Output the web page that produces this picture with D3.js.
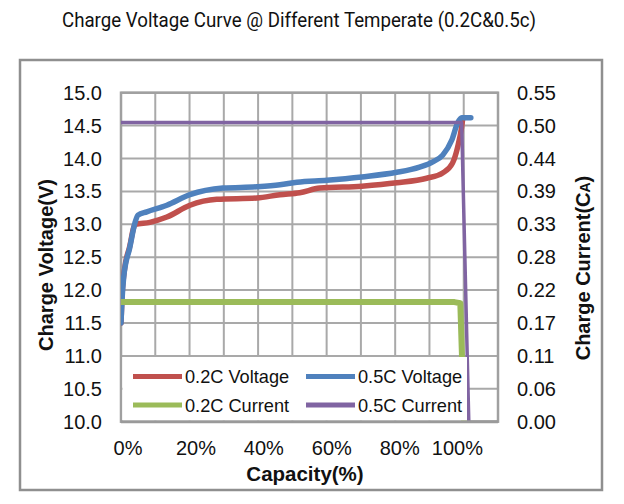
<!DOCTYPE html>
<html>
<head>
<meta charset="utf-8">
<script src="https://cdn.jsdelivr.net/npm/d3@7"></script>
<style>
  html, body { margin: 0; padding: 0; background: #fff; }
  svg { display: block; }
</style>
</head>
<body>
<svg id="chart" width="624" height="504"></svg>
<script>
// ---------- data ----------
const titleText = "Charge Voltage Curve @ Different Temperate (0.2C&0.5c)";
const seriesNames = ["0.2C Voltage", "0.5C Voltage", "0.2C Current", "0.5C Current"];
const seriesColors = ["#c0504d", "#4f81bd", "#9bbb59", "#8064a2"];

// 0.2C Voltage (left axis, V) vs capacity (%)
const red02Cap = [0, 0.3, 1, 2.5, 4.2, 8.5, 13.5, 20.3, 28.2, 40, 46.8, 52.6, 58.5, 70.9, 81.2, 90, 94.7, 97.6, 99.1, 100.3, 100.6];
const red02Volt = [11.5, 11.9, 12.3, 12.65, 13.0, 13.03, 13.11, 13.29, 13.38, 13.40, 13.45, 13.48, 13.55, 13.58, 13.63, 13.70, 13.78, 13.93, 14.17, 14.48, 14.60];

// 0.5C Voltage
const blue05Cap = [0, 0.3, 0.8, 2.6, 4.1, 5.0, 7.6, 13.5, 20.3, 30, 40, 46.8, 51.8, 60.6, 70.9, 81.2, 87.9, 91.8, 94.7, 97.4, 99.1, 100.3, 103];
const blue05Volt = [11.5, 11.85, 12.2, 12.65, 13.02, 13.14, 13.19, 13.29, 13.45, 13.55, 13.57, 13.60, 13.64, 13.67, 13.72, 13.79, 13.87, 13.95, 14.05, 14.28, 14.54, 14.62, 14.62];

// 0.2C Current (right axis, CA)
const green02Cap = [0, 98.2, 99.9, 101.0];
const green02Curr = [0.20, 0.20, 0.198, 0.0];

// 0.5C Current
const purple05Cap = [0, 100.3, 102.4];
const purple05Curr = [0.50, 0.50, 0.0];

// axis ticks
const leftTicks = [10.0, 10.5, 11.0, 11.5, 12.0, 12.5, 13.0, 13.5, 14.0, 14.5, 15.0];
const rightTickLabels = ["0.00", "0.06", "0.11", "0.17", "0.22", "0.28", "0.33", "0.39", "0.44", "0.50", "0.55"];
const xTicks = [0, 20, 40, 60, 80, 100];
const xTickLabels = ["0%", "20%", "40%", "60%", "80%", "100%"];

// ---------- layout ----------
const svg = d3.select("#chart");
const plotLeft = 121, plotRight = 498, plotTop = 92.7, plotBottom = 421.7;
const FONT = "'Liberation Sans', Arial, sans-serif";

const x = d3.scaleLinear().domain([0, 111]).range([plotLeft, plotRight]);
const yL = d3.scaleLinear().domain([10, 15]).range([plotBottom, plotTop]);
const yR = d3.scaleLinear().domain([0, 0.55]).range([plotBottom, plotTop]);
const gridX = d3.scaleLinear().domain([0, 11]).range([plotLeft, plotRight]);

// title
svg.append("text")
  .attr("x", 299).attr("y", 27)
  .attr("text-anchor", "middle")
  .attr("font-family", "Roboto, 'DejaVu Sans', sans-serif")
  .attr("font-weight", 400)
  .attr("font-size", 20)
  .attr("fill", "#111")
  .attr("textLength", 474)
  .attr("lengthAdjust", "spacingAndGlyphs")
  .text(titleText);

// outer frame
svg.append("rect")
  .attr("x", 20).attr("y", 60).attr("width", 582).attr("height", 430)
  .attr("fill", "none").attr("stroke", "#8f8f8f").attr("stroke-width", 2.5);

// gridlines
const grid = svg.append("g");
grid.selectAll("line.h").data(leftTicks).join("line")
  .attr("x1", plotLeft).attr("x2", plotRight)
  .attr("y1", d => yL(d)).attr("y2", d => yL(d))
  .attr("stroke", "#a9a9a9").attr("stroke-width", 2);
grid.selectAll("line.v").data(d3.range(12)).join("line")
  .attr("y1", plotTop).attr("y2", plotBottom)
  .attr("x1", d => gridX(d)).attr("x2", d => gridX(d))
  .attr("stroke", "#a9a9a9").attr("stroke-width", 2);

// plot border
svg.append("rect")
  .attr("x", plotLeft).attr("y", plotTop)
  .attr("width", plotRight - plotLeft).attr("height", plotBottom - plotTop)
  .attr("fill", "none").attr("stroke", "#a0a0a0").attr("stroke-width", 2.5);

// series
const lineL = d3.line().x(d => x(d[0])).y(d => yL(d[1])).curve(d3.curveMonotoneX);
const lineR = d3.line().x(d => x(d[0])).y(d => yR(d[1]));
const series = [
  { data: d3.zip(red02Cap, red02Volt), gen: lineL, color: seriesColors[0], w: 5.5 },
  { data: d3.zip(blue05Cap, blue05Volt), gen: lineL, color: seriesColors[1], w: 5.5 },
  { data: d3.zip(green02Cap, green02Curr), gen: lineR, color: seriesColors[2], w: 6 },
  { data: d3.zip(purple05Cap, purple05Curr), gen: lineR, color: seriesColors[3], w: 3.5 }
];
svg.append("clipPath").attr("id", "plotclip").append("rect")
  .attr("x", plotLeft).attr("y", plotTop - 10)
  .attr("width", plotRight - plotLeft).attr("height", plotBottom - plotTop + 10);
svg.append("g").attr("clip-path", "url(#plotclip)")
  .selectAll("path").data(series).join("path")
  .attr("d", s => s.gen(s.data))
  .attr("fill", "none")
  .attr("stroke", s => s.color)
  .attr("stroke-width", s => s.w)
  .attr("stroke-linejoin", "round")
  .attr("stroke-linecap", "round");

// bottom axis line (slightly heavier)
svg.append("line")
  .attr("x1", plotLeft).attr("x2", plotRight)
  .attr("y1", plotBottom).attr("y2", plotBottom)
  .attr("stroke", "#9a9a9a").attr("stroke-width", 3);

// legend
const lg = svg.append("g");
lg.append("rect")
  .attr("x", plotLeft + 1.5).attr("y", 357)
  .attr("width", 467 - plotLeft - 1.5).attr("height", plotBottom - 357 - 1.5)
  .attr("fill", "#fff");
const legendItems = seriesNames.map((n, i) => ({ name: n, color: seriesColors[i], col: i % 2, row: Math.floor(i / 2) }));
const legCols = [133, 306], legRows = [376.5, 405];
lg.selectAll("line").data(legendItems).join("line")
  .attr("x1", d => legCols[d.col]).attr("x2", d => legCols[d.col] + 49)
  .attr("y1", d => legRows[d.row]).attr("y2", d => legRows[d.row])
  .attr("stroke", d => d.color).attr("stroke-width", 5);
lg.selectAll("text").data(legendItems).join("text")
  .attr("x", d => legCols[d.col] + 52).attr("y", d => legRows[d.row] + 6.5)
  .attr("font-family", FONT).attr("font-size", 18.2).attr("fill", "#111")
  .text(d => d.name);

// left axis labels
svg.append("g").selectAll("text").data(leftTicks).join("text")
  .attr("x", 102).attr("y", d => yL(d) + 7)
  .attr("text-anchor", "end")
  .attr("font-family", FONT).attr("font-size", 20).attr("fill", "#111")
  .text(d => d3.format(".1f")(d));

// right axis labels
svg.append("g").selectAll("text").data(rightTickLabels).join("text")
  .attr("x", 517).attr("y", (d, i) => yR(i * 0.055) + 7)
  .attr("text-anchor", "start")
  .attr("font-family", FONT).attr("font-size", 20).attr("fill", "#111")
  .text(d => d);

// x axis labels
const xt = svg.append("g").selectAll("text").data(xTicks).join("text")
  .attr("y", 455)
  .attr("text-anchor", "middle")
  .attr("font-family", FONT).attr("font-size", 20).attr("fill", "#111")
  .text((d, i) => xTickLabels[i]);
xt.each(function (d) {
  const w = this.getComputedTextLength();
  const cx = Math.min(x(d) + 7, plotRight - 15 - w / 2);
  d3.select(this).attr("x", cx);
});

// axis titles
svg.append("text")
  .attr("transform", "translate(53,265) rotate(-90)")
  .attr("text-anchor", "middle")
  .attr("font-family", FONT).attr("font-weight", "bold").attr("font-size", 20).attr("fill", "#111")
  .text("Charge Voltage(V)");

const rt = svg.append("text")
  .attr("transform", "translate(590,268) rotate(-90)")
  .attr("text-anchor", "middle")
  .attr("font-family", FONT).attr("font-weight", "bold").attr("font-size", 20).attr("fill", "#111");
rt.append("tspan").text("Charge Current(C");
rt.append("tspan").attr("font-size", 14).text("A");
rt.append("tspan").text(")");

svg.append("text")
  .attr("x", 305).attr("y", 481)
  .attr("text-anchor", "middle")
  .attr("font-family", FONT).attr("font-weight", "bold").attr("font-size", 20.5).attr("fill", "#111")
  .text("Capacity(%)");
</script>
</body>
</html>
